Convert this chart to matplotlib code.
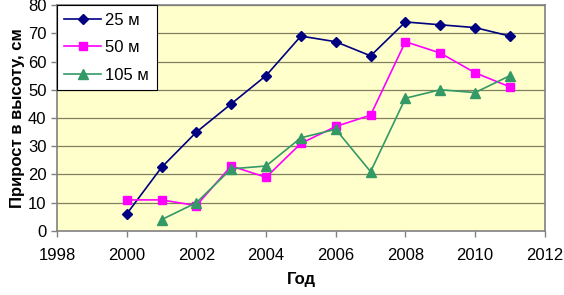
import numpy as np
import matplotlib
matplotlib.use("Agg")
import matplotlib.pyplot as plt

plt.rcParams['font.family'] = ['Liberation Sans', 'DejaVu Sans']

years_25 = [2000, 2001, 2002, 2003, 2004, 2005, 2006, 2007, 2008, 2009, 2010, 2011]
vals_25 = [6, 22.5, 35, 45, 55, 69, 67, 62, 74, 73, 72, 69]

years_50 = [2000, 2001, 2002, 2003, 2004, 2005, 2006, 2007, 2008, 2009, 2010, 2011]
vals_50 = [11, 11, 9, 23, 19, 31, 37, 41, 67, 63, 56, 51]

years_105 = [2001, 2002, 2003, 2004, 2005, 2006, 2007, 2008, 2009, 2010, 2011]
vals_105 = [4, 10, 22, 23, 33, 36, 21, 47, 50, 49, 55]

fig = plt.figure(figsize=(5.64, 2.95), dpi=100)
ax = fig.add_axes([0.101, 0.217, 0.865, 0.766])
ax.set_facecolor('#FFFFCC')

for y in range(10, 81, 10):
    ax.axhline(y, color='#808060', lw=0.9, zorder=1)

ax.plot(years_25, vals_25, color='#000080', marker='D', ms=5, lw=1.2, label='25 м', zorder=3)
ax.plot(years_50, vals_50, color='#FF00FF', marker='s', ms=6, lw=1.2, label='50 м', zorder=3)
ax.plot(years_105, vals_105, color='#339966', marker='^', ms=7, lw=1.2, label='105 м', zorder=3)

ax.set_xlim(1998, 2012)
ax.set_ylim(0, 80)
ax.set_xticks(range(1998, 2013, 2))
ax.set_yticks(range(0, 81, 10))
ax.tick_params(labelsize=12, direction='out', length=4, color='#808080', width=1)
ax.tick_params(axis='x', pad=8)
for s in ax.spines.values():
    s.set_color('#808080')
    s.set_linewidth(1.2)

ax.set_xlabel('Год', fontsize=12, fontweight='bold', labelpad=7)
ax.set_ylabel('Прирост в высоту, см', fontsize=12, fontweight='bold', labelpad=2)

leg = ax.legend(loc='upper left', fontsize=12, frameon=True, fancybox=False,
                borderaxespad=0.0, handlelength=2.2, handletextpad=0.25,
                labelspacing=0.75, borderpad=0.45)
leg.get_frame().set_edgecolor('black')
leg.get_frame().set_linewidth(0.8)
leg.get_frame().set_alpha(1)

fig.savefig('out.png', dpi=100)
